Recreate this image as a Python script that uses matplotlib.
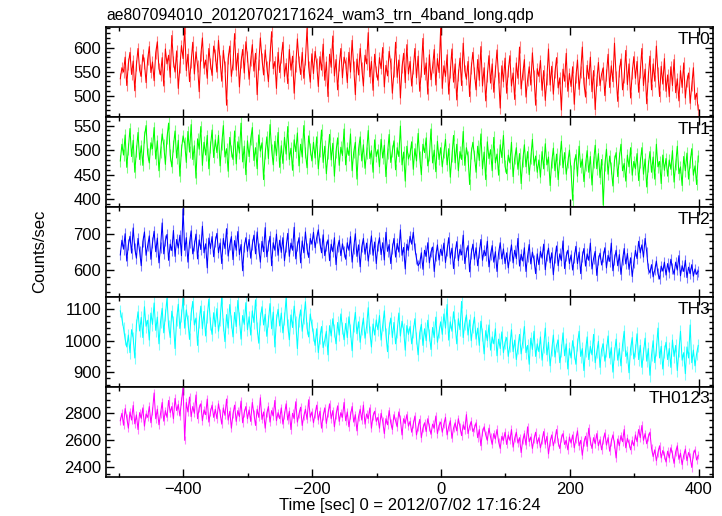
import numpy as np
import matplotlib
matplotlib.use("Agg")
import matplotlib.pyplot as plt
from matplotlib.ticker import MultipleLocator

plt.rcParams['font.family'] = ['Liberation Sans', 'DejaVu Sans']

title = "ae807094010_20120702171624_wam3_trn_4band_long.qdp"
xlabel = "Time [sec] 0 = 2012/07/02 17:16:24"
ylabel = "Counts/sec"

# time bins (sec, relative to 2012/07/02 17:16:24)
t_start = -498
t_step = 2.5
n_bins = 360

panel_names = ["TH0", "TH1", "TH2", "TH3", "TH0123"]

th0 = [
    535, 558, 549, 580, 521, 566, 590, 544, 572, 510, 563, 598, 553, 540, 585, 568, 527, 575, 602, 548,
    570, 531, 589, 612, 556, 543, 579, 520, 597, 566, 584, 538, 625, 571, 549, 593, 515, 560, 604, 577,
    640, 552, 586, 529, 570, 611, 545, 591, 562, 508, 583, 620, 557, 574, 536, 598, 567, 542, 603, 585,
    549, 615, 572, 530, 594, 561, 480, 577, 603, 540, 566, 629, 553, 588, 518, 570, 596, 547, 612, 581,
    534, 573, 606, 551, 588, 502, 565, 620, 577, 543, 595, 560, 529, 584, 633, 556, 571, 515, 590, 548,
    579, 611, 540, 567, 525, 596, 553, 582, 505, 562, 618, 571, 544, 590, 536, 575, 640, 560, 528, 587,
    546, 592, 567, 519, 581, 553, 607, 532, 570, 498, 586, 559, 624, 541, 575, 512, 563, 598, 537, 580,
    568, 527, 590, 549, 615, 561, 502, 576, 543, 598, 557, 520, 584, 566, 631, 539, 571, 511, 586, 550,
    532, 579, 556, 600, 518, 563, 541, 592, 567, 505, 550, 611, 538, 574, 495, 559, 588, 527, 606, 545,
    571, 520, 556, 598, 537, 582, 509, 551, 619, 544, 568, 503, 585, 533, 560, 596, 522, 577, 548, 640,
    515, 562, 540, 585, 503, 549, 597, 528, 566, 491, 543, 578, 521, 609, 552, 534, 571, 498, 557, 590,
    547, 512, 575, 532, 602, 520, 558, 489, 541, 583, 526, 566, 507, 551, 595, 538, 474, 562, 529, 578,
    505, 551, 583, 520, 547, 492, 568, 536, 601, 514, 545, 575, 497, 532, 560, 522, 589, 541, 480, 556,
    540, 573, 511, 552, 490, 535, 597, 522, 561, 503, 548, 579, 516, 537, 470, 555, 530, 588, 509, 546,
    519, 560, 482, 538, 574, 513, 549, 601, 526, 497, 563, 535, 580, 508, 552, 471, 531, 569, 521, 545,
    558, 500, 543, 586, 517, 562, 529, 609, 540, 488, 551, 576, 512, 538, 594, 523, 566, 495, 547, 581,
    536, 571, 507, 549, 598, 521, 555, 483, 540, 582, 512, 566, 530, 603, 547, 498, 561, 524, 577, 509,
    543, 498, 560, 521, 575, 506, 535, 489, 552, 517, 568, 495, 530, 547, 484, 521, 558, 492, 505, 470,
]

th1 = [
    478, 512, 490, 531, 465, 503, 544, 487, 520, 455, 498, 536, 481, 509, 469, 527, 550, 492, 474, 515,
    503, 546, 482, 519, 458, 497, 533, 510, 471, 525, 555, 490, 466, 508, 539, 484, 520, 447, 501, 529,
    514, 475, 538, 496, 552, 481, 509, 443, 523, 502, 548, 469, 516, 490, 530, 462, 507, 541, 485, 521,
    495, 530, 468, 512, 550, 486, 503, 457, 526, 498, 481, 539, 472, 517, 494, 555, 476, 508, 450, 519,
    487, 522, 546, 479, 505, 462, 531, 498, 515, 440, 493, 527, 483, 552, 501, 470, 518, 489, 536, 465,
    509, 473, 526, 492, 548, 481, 504, 459, 521, 497, 535, 468, 512, 486, 550, 495, 464, 529, 503, 478,
    516, 484, 527, 462, 499, 541, 475, 508, 452, 493, 532, 480, 514, 447, 497, 525, 469, 506, 489, 543,
    470, 505, 489, 533, 458, 496, 516, 441, 502, 527, 478, 511, 463, 494, 540, 483, 499, 455, 521, 487,
    501, 466, 522, 484, 510, 446, 493, 532, 475, 498, 519, 460, 505, 487, 549, 470, 496, 437, 508, 482,
    492, 517, 461, 503, 478, 534, 486, 450, 512, 495, 525, 468, 489, 543, 474, 500, 456, 518, 481, 505,
    466, 495, 522, 470, 503, 445, 488, 530, 474, 512, 458, 497, 481, 538, 469, 505, 487, 430, 494, 516,
    489, 455, 508, 479, 533, 462, 496, 440, 517, 483, 501, 458, 526, 474, 492, 449, 511, 485, 530, 467,
    452, 490, 474, 516, 446, 483, 505, 461, 493, 432, 478, 511, 466, 497, 450, 484, 522, 469, 488, 455,
    480, 445, 497, 462, 513, 470, 486, 428, 475, 504, 458, 492, 440, 481, 518, 464, 495, 451, 476, 500,
    458, 398, 473, 491, 447, 508, 465, 482, 436, 470, 499, 455, 487, 429, 476, 510, 462, 493, 444, 481,
    388, 470, 502, 451, 488, 463, 427, 479, 495, 446, 484, 512, 458, 473, 437, 490, 466, 505, 449, 477,
    462, 493, 438, 475, 505, 451, 482, 425, 468, 497, 455, 486, 441, 512, 466, 477, 432, 490, 459, 483,
    447, 480, 461, 499, 435, 472, 508, 452, 466, 428, 487, 458, 494, 441, 476, 503, 449, 468, 430, 488,
]

th2 = [
    642, 683, 658, 701, 625, 670, 694, 647, 717, 660, 633, 688, 652, 612, 679, 706, 641, 668, 695, 630,
    676, 708, 651, 689, 620, 663, 731, 645, 682, 699, 627, 672, 654, 710, 638, 685, 661, 697, 640, 770,
    655, 690, 622, 676, 709, 645, 668, 700, 631, 684, 657, 722, 648, 673, 606, 689, 660, 693, 637, 679,
    702, 648, 675, 618, 688, 660, 715, 639, 670, 693, 629, 682, 655, 707, 643, 671, 598, 664, 690, 652,
    685, 633, 671, 697, 645, 706, 659, 622, 680, 651, 718, 637, 668, 694, 612, 676, 655, 700, 641, 683,
    649, 690, 626, 664, 702, 638, 675, 655, 719, 631, 667, 690, 620, 681, 648, 706, 659, 635, 688, 672,
    705, 662, 690, 712, 675, 648, 698, 640, 667, 684, 626, 672, 651, 690, 615, 664, 683, 640, 673, 652,
    630, 676, 655, 693, 622, 661, 701, 638, 670, 609, 664, 688, 644, 675, 625, 660, 695, 641, 678, 618,
    667, 690, 643, 676, 628, 705, 652, 671, 618, 660, 688, 636, 674, 650, 712, 641, 663, 603, 672, 655,
    694, 672, 705, 660, 632, 612, 620, 648, 602, 655, 638, 676, 620, 650, 664, 596, 641, 670, 628, 658,
    640, 675, 621, 655, 690, 633, 661, 604, 648, 679, 626, 658, 642, 697, 618, 650, 668, 595, 645, 672,
    630, 662, 612, 649, 685, 627, 655, 640, 680, 609, 643, 668, 622, 651, 596, 647, 676, 631, 659, 618,
    648, 606, 641, 670, 620, 655, 632, 688, 611, 644, 625, 662, 596, 638, 671, 617, 650, 628, 590, 645,
    615, 652, 633, 672, 601, 640, 661, 620, 648, 587, 634, 667, 612, 645, 626, 681, 604, 639, 655, 618,
    642, 600, 634, 666, 618, 650, 590, 638, 660, 611, 645, 627, 675, 603, 632, 652, 585, 628, 647, 614,
    637, 662, 606, 641, 624, 675, 598, 630, 655, 612, 643, 588, 628, 660, 617, 646, 602, 634, 582, 621,
    655, 632, 680, 648, 670, 636, 688, 650, 604, 592, 615, 581, 600, 625, 590, 575, 611, 597, 622, 586,
    618, 594, 630, 605, 588, 622, 600, 640, 584, 612, 596, 627, 579, 608, 590, 615, 583, 603, 588, 597,
]

th3 = [
    1095, 1070, 1040, 1005, 980, 1018, 962, 1035, 1008, 945, 1050, 1092, 1031, 1074, 1010, 1108, 1046, 1065, 1002, 1088,
    1052, 1120, 1033, 1075, 990, 1061, 1103, 1025, 1082, 1135, 1047, 1010, 1094, 1058, 975, 1068, 1116, 1039, 1080, 1135,
    1040, 1098, 1062, 1004, 1086, 1125, 1050, 1072, 985, 1060, 1110, 1038, 1093, 1015, 1077, 1132, 1055, 1020, 1089, 1045,
    1102, 1030, 1068, 1138, 1052, 997, 1083, 1040, 1115, 1061, 1012, 1090, 1045, 1128, 1070, 1005, 1080, 1052, 1121, 1035,
    1076, 1018, 1095, 1058, 1130, 1041, 992, 1070, 1108, 1050, 1084, 1014, 1062, 1118, 1038, 1091, 980, 1066, 1100, 1047,
    1088, 1025, 1070, 1136, 1049, 1003, 1082, 1042, 1110, 1057, 975, 1065, 1098, 1030, 1074, 1124, 1040, 1012, 1085, 1050,
    1020, 985, 1038, 962, 1010, 1045, 978, 1002, 1030, 955, 1048, 1015, 1070, 1032, 990, 1058, 1018, 1085, 1040, 1003,
    1055, 1010, 1076, 1032, 968, 1048, 1090, 1022, 1060, 995, 1038, 1072, 1008, 1045, 1105, 1027, 980, 1053, 1018, 1066,
    1035, 1080, 1002, 1050, 1095, 1020, 965, 1040, 1072, 1010, 1058, 990, 1030, 1088, 1015, 1062, 1035, 970, 1048, 1020,
    1045, 990, 1030, 1070, 1008, 955, 1025, 1052, 985, 1038, 1000, 1065, 1018, 972, 1042, 1010, 1075, 995, 1028, 1060,
    1020, 1085, 1040, 1115, 1002, 1060, 1030, 1092, 1048, 990, 1070, 1035, 1125, 1010, 1055, 1082, 1018, 1066, 1000, 1045,
    1075, 1005, 1040, 985, 1062, 1020, 958, 1032, 1000, 1050, 970, 1012, 990, 1038, 952, 1005, 975, 1028, 962, 995,
    1010, 950, 985, 1035, 965, 1002, 940, 978, 1020, 958, 996, 1045, 962, 985, 925, 1008, 972, 1030, 950, 990,
    965, 1012, 938, 982, 1040, 955, 995, 920, 970, 1018, 948, 985, 1002, 930, 968, 1025, 952, 990, 910, 975,
    945, 1000, 962, 925, 988, 1030, 950, 975, 905, 968, 1012, 940, 982, 955, 1020, 930, 965, 998, 915, 972,
    990, 935, 968, 1015, 945, 978, 900, 960, 1005, 938, 975, 920, 988, 1030, 950, 962, 898, 975, 1010, 942,
    968, 1022, 940, 985, 915, 960, 1008, 935, 975, 890, 955, 1000, 930, 972, 1040, 945, 982, 910, 965, 995,
    940, 975, 915, 1002, 950, 985, 905, 968, 1030, 938, 962, 895, 980, 945, 1050, 930, 970, 920, 958, 985,
]

th0123 = [
    2745, 2800, 2712, 2835, 2768, 2690, 2810, 2750, 2858, 2722, 2788, 2680, 2805, 2762, 2840, 2705, 2795, 2770, 2850, 2730,
    2815, 2950, 2760, 2830, 2715, 2795, 2880, 2742, 2820, 2770, 2895, 2805, 2850, 2760, 2910, 2820, 2865, 2780, 2890, 2990,
    2600, 2880, 2810, 2920, 2775, 2850, 2800, 2935, 2760, 2840, 2870, 2745, 2825, 2790, 2905, 2735, 2810, 2860, 2770, 2830,
    2760, 2870, 2800, 2720, 2840, 2785, 2905, 2750, 2815, 2690, 2795, 2860, 2740, 2820, 2775, 2890, 2730, 2805, 2850, 2760,
    2825, 2740, 2880, 2795, 2710, 2830, 2770, 2915, 2755, 2810, 2690, 2800, 2850, 2735, 2820, 2780, 2895, 2745, 2805, 2760,
    2840, 2720, 2790, 2870, 2750, 2815, 2680, 2800, 2760, 2885, 2735, 2795, 2845, 2710, 2780, 2830, 2755, 2900, 2770, 2810,
    2730, 2795, 2860, 2750, 2815, 2690, 2780, 2840, 2725, 2800, 2870, 2760, 2820, 2700, 2790, 2855, 2740, 2805, 2770, 2880,
    2745, 2810, 2700, 2785, 2850, 2735, 2790, 2670, 2775, 2830, 2750, 2860, 2720, 2795, 2760, 2840, 2690, 2780, 2815, 2740,
    2770, 2690, 2800, 2740, 2650, 2760, 2715, 2820, 2730, 2680, 2790, 2745, 2700, 2810, 2755, 2640, 2760, 2725, 2790, 2705,
    2740, 2660, 2720, 2780, 2640, 2700, 2755, 2620, 2690, 2730, 2665, 2760, 2700, 2645, 2720, 2690, 2780, 2650, 2710, 2735,
    2660, 2720, 2770, 2640, 2700, 2745, 2615, 2690, 2730, 2670, 2760, 2700, 2635, 2715, 2680, 2790, 2650, 2705, 2740, 2665,
    2690, 2730, 2620, 2680, 2560, 2660, 2700, 2640, 2600, 2690, 2625, 2570, 2650, 2610, 2680, 2590, 2540, 2630, 2600, 2660,
    2570, 2640, 2600, 2680, 2550, 2615, 2660, 2580, 2620, 2510, 2600, 2650, 2565, 2700, 2590, 2625, 2540, 2610, 2660, 2575,
    2620, 2545, 2600, 2665, 2570, 2630, 2500, 2590, 2640, 2560, 2610, 2680, 2585, 2540, 2615, 2650, 2570, 2600, 2530, 2625,
    2580, 2640, 2545, 2610, 2670, 2560, 2600, 2490, 2585, 2630, 2555, 2690, 2595, 2540, 2620, 2575, 2650, 2560, 2605, 2530,
    2600, 2655, 2565, 2620, 2520, 2590, 2640, 2575, 2470, 2610, 2560, 2635, 2590, 2680, 2545, 2615, 2580, 2530, 2600, 2560,
    2640, 2590, 2680, 2620, 2710, 2600, 2650, 2575, 2625, 2660, 2540, 2480, 2530, 2450, 2510, 2560, 2470, 2525, 2490, 2440,
    2520, 2470, 2545, 2500, 2430, 2515, 2560, 2460, 2505, 2420, 2490, 2535, 2450, 2510, 2475, 2400, 2500, 2530, 2455, 2490,
]

# typical 1-sigma error per band
errors = [12, 12, 15, 20, 30]

series = [th0, th1, th2, th3, th0123]
colors = ["#ff0000", "#00ff00", "#0000ff", "#00ffff", "#ff00ff"]
ylims = [(455, 642), (384, 567), (525, 775), (853, 1139), (2331, 2995)]
ymajor = [50, 50, 100, 100, 200]
yminor = [10, 10, 20, 20, 50]

t = t_start + t_step * np.arange(n_bins)

fig = plt.figure(figsize=(7.22, 5.16), dpi=100)
axes = fig.subplots(5, 1, sharex=True, gridspec_kw=dict(hspace=0))
fig.subplots_adjust(left=0.147, right=0.988, top=0.947, bottom=0.076)

for ax, vals, col, yl, ma, mi, name, err in zip(axes, series, colors, ylims, ymajor, yminor, panel_names, errors):
    v = np.array(vals, dtype=float)
    ax.vlines(t, v - err, v + err, colors=col, alpha=0.5, lw=0.8)
    ax.plot(t, v, color=col, lw=0.75)
    ax.set_ylim(*yl)
    ax.set_xlim(-520, 423)
    ax.yaxis.set_major_locator(MultipleLocator(ma))
    ax.yaxis.set_minor_locator(MultipleLocator(mi))
    ax.xaxis.set_major_locator(MultipleLocator(200))
    ax.xaxis.set_minor_locator(MultipleLocator(100))
    ax.tick_params(which='both', direction='in', top=True, right=True, labelsize=12, width=1.0)
    ax.tick_params(which='major', length=6)
    ax.tick_params(which='minor', length=3)
    for s in ax.spines.values():
        s.set_linewidth(1.2)
    ax.text(0.995, 0.95, name, transform=ax.transAxes, ha='right', va='top', fontsize=12.5)

axes[-1].set_xlabel(xlabel, fontsize=12, labelpad=1)
fig.text(0.148, 0.971, title, ha='left', va='center', fontsize=11.3)
fig.text(0.055, 0.512, ylabel, rotation=90, ha='center', va='center', fontsize=12)

fig.savefig("out.png", dpi=100)
